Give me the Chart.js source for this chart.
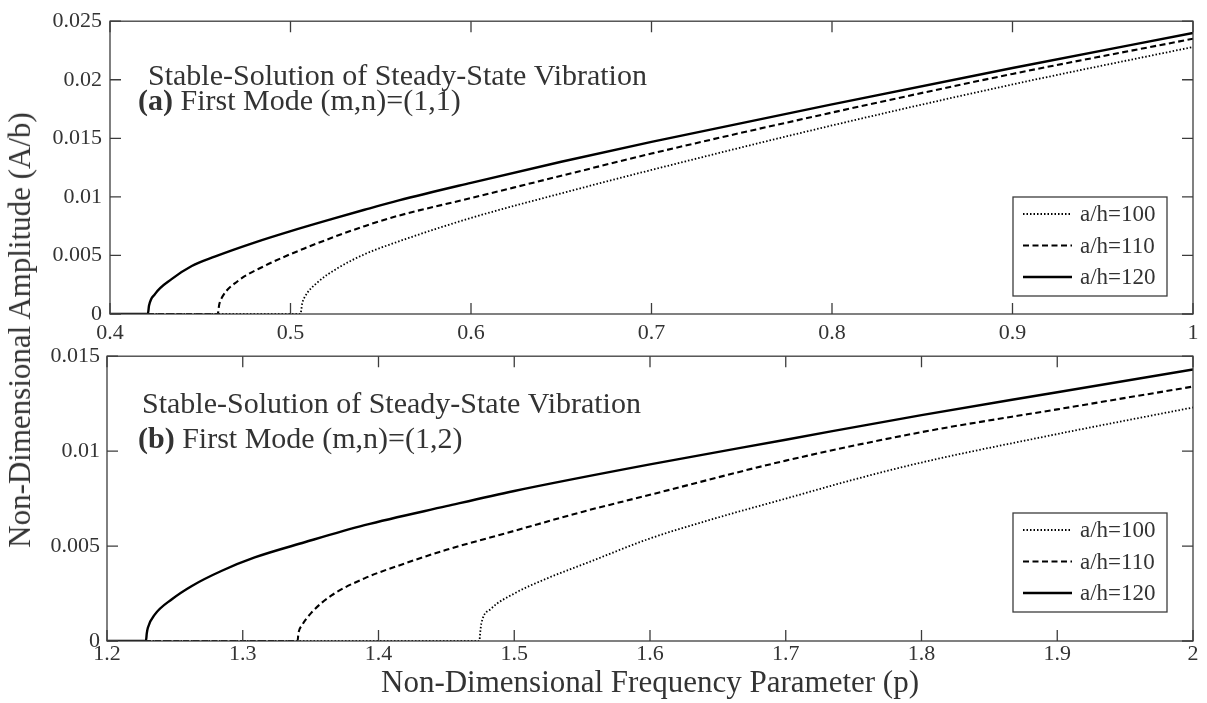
<!DOCTYPE html>
<html>
<head>
<meta charset="utf-8">
<script src="https://cdn.jsdelivr.net/npm/chart.js@4"></script>
<style>
  html, body { margin: 0; padding: 0; background: #fff; }
  #wrap { position: relative; width: 1207px; height: 703px; overflow: hidden; }
  canvas { position: absolute; left: 0; }
  #chartA { top: 0; }
  #chartB { top: 336px; }
  #ylabel {
    position: absolute; left: 20px; top: 330px;
    transform: translate(-50%, -50%) rotate(-90deg);
    white-space: nowrap; color: #333;
    font: 31px "Liberation Serif", "Times New Roman", serif;
  }
</style>
</head>
<body>
<div id="wrap">
  <canvas id="chartA" width="1207" height="345"></canvas>
  <canvas id="chartB" width="1207" height="367"></canvas>
  <div id="ylabel">Non-Dimensional Amplitude (A/b)</div>
</div>
<script>
var serif = '"Liberation Serif", "Times New Roman", serif';
var ink = '#333';

var seriesLabels = ['a/h=100', 'a/h=110', 'a/h=120'];

// (a) first mode (m,n)=(1,1)
var xTicksA = [0.4, 0.5, 0.6, 0.7, 0.8, 0.9, 1];
var yTicksA = [0, 0.005, 0.01, 0.015, 0.02, 0.025];
var pA100 = [0.4, 0.5055, 0.5065, 0.5077, 0.515, 0.526, 0.541, 0.56, 0.6, 0.65, 0.7, 0.8, 0.9, 1.0];
var ampA100 = [0, 0, 0.0009, 0.0014, 0.0027, 0.0039, 0.0051, 0.0062, 0.0082, 0.0103, 0.0123, 0.0161, 0.0196, 0.0228];
var pA110 = [0.4, 0.4597, 0.4605, 0.462, 0.4707, 0.4856, 0.5077, 0.541, 0.56, 0.6, 0.65, 0.7, 0.8, 0.9, 1.0];
var ampA110 = [0, 0, 0.0008, 0.0014, 0.0028, 0.0041, 0.0056, 0.0075, 0.0084, 0.0099, 0.0118, 0.0137, 0.0172, 0.0205, 0.0235];
var pA120 = [0.4, 0.421, 0.4216, 0.4249, 0.4343, 0.4453, 0.458, 0.48, 0.5006, 0.5227, 0.541, 0.56, 0.6, 0.65, 0.7, 0.8, 0.9, 1.0];
var ampA120 = [0, 0, 0.0007, 0.0017, 0.0030, 0.0041, 0.0049, 0.0061, 0.0071, 0.0081, 0.0089, 0.0097, 0.0112, 0.0130, 0.0147, 0.0179, 0.0210, 0.0240];

// (b) first mode (m,n)=(1,2)
var xTicksB = [1.2, 1.3, 1.4, 1.5, 1.6, 1.7, 1.8, 1.9, 2];
var yTicksB = [0, 0.005, 0.01, 0.015];
var pB100 = [1.2, 1.4743, 1.475, 1.4757, 1.483, 1.5, 1.5243, 1.5566, 1.6, 1.65, 1.7, 1.75, 1.8, 1.9, 2.0];
var ampB100 = [0, 0, 0.0005, 0.0009, 0.0017, 0.0025, 0.0033, 0.0042, 0.0054, 0.0065, 0.0075, 0.0085, 0.0094, 0.0109, 0.0123];
var pB110 = [1.2, 1.3404, 1.341, 1.3434, 1.3507, 1.3654, 1.3897, 1.42, 1.45, 1.5, 1.55, 1.6, 1.7, 1.8, 1.9, 2.0];
var ampB110 = [0, 0, 0.0004, 0.0008, 0.0015, 0.0024, 0.0033, 0.0041, 0.0048, 0.0058, 0.0068, 0.0077, 0.0095, 0.0110, 0.0122, 0.0134];
var pB120 = [1.2, 1.2287, 1.2293, 1.2301, 1.2353, 1.2478, 1.2625, 1.2846, 1.3088, 1.3456, 1.3897, 1.45, 1.5, 1.6, 1.7, 1.8, 1.9, 2.0];
var ampB120 = [0, 0, 0.0004, 0.0007, 0.0014, 0.0022, 0.0029, 0.0037, 0.0044, 0.0052, 0.0061, 0.0071, 0.0079, 0.0093, 0.0106, 0.0119, 0.0131, 0.0143];

function toPoints(xs, ys) {
  return xs.map(function (x, i) { return { x: x, y: ys[i] }; });
}

function lineSets(d100, d110, d120) {
  return [
    { label: seriesLabels[0], data: d100, borderColor: '#000', borderWidth: 1.8, borderDash: [1.5, 2], order: 3 },
    { label: seriesLabels[1], data: d110, borderColor: '#000', borderWidth: 2.1, borderDash: [6, 3.5], order: 2 },
    { label: seriesLabels[2], data: d120, borderColor: '#000', borderWidth: 2.4, borderDash: [], order: 1 }
  ];
}

// inward ticks on all four sides plus the box frame
var framePlugin = {
  id: 'frame',
  afterDatasetsDraw: function (chart) {
    var a = chart.chartArea, ctx = chart.ctx;
    var xs = chart.scales.x, ys = chart.scales.y;
    ctx.save();
    ctx.strokeStyle = '#3c3c3c';
    ctx.lineWidth = 1.3;
    ctx.beginPath();
    xs.ticks.forEach(function (t) {
      var px = xs.getPixelForValue(t.value);
      ctx.moveTo(px, a.bottom); ctx.lineTo(px, a.bottom - 11);
      ctx.moveTo(px, a.top); ctx.lineTo(px, a.top + 11);
    });
    ys.ticks.forEach(function (t) {
      var py = ys.getPixelForValue(t.value);
      ctx.moveTo(a.left, py); ctx.lineTo(a.left + 11, py);
      ctx.moveTo(a.right, py); ctx.lineTo(a.right - 11, py);
    });
    ctx.stroke();
    ctx.strokeRect(a.left, a.top, a.right - a.left, a.bottom - a.top);
    ctx.restore();
  }
};

function legendPlugin(offBottom) {
  return {
    id: 'boxLegend',
    afterDraw: function (chart) {
      var a = chart.chartArea, ctx = chart.ctx;
      var w = 154, h = 99;
      var left = a.right - 26 - w, top = a.bottom - offBottom - h;
      ctx.save();
      ctx.fillStyle = '#fff';
      ctx.fillRect(left, top, w, h);
      ctx.strokeStyle = '#3c3c3c';
      ctx.lineWidth = 1.3;
      ctx.strokeRect(left, top, w, h);
      ctx.font = '23px ' + serif;
      ctx.textBaseline = 'middle';
      chart.data.datasets.forEach(function (ds, i) {
        var cy = top + 17 + i * 31.5;
        ctx.beginPath();
        ctx.setLineDash(ds.borderDash);
        ctx.lineWidth = ds.borderWidth;
        ctx.strokeStyle = ds.borderColor;
        ctx.moveTo(left + 10, cy);
        ctx.lineTo(left + 59, cy);
        ctx.stroke();
        ctx.setLineDash([]);
        ctx.fillStyle = ink;
        ctx.fillText(ds.label, left + 67, cy + 1);
      });
      ctx.restore();
    }
  };
}

function notePlugin(lines) {
  return {
    id: 'note',
    afterDraw: function (chart) {
      var ctx = chart.ctx;
      ctx.save();
      ctx.fillStyle = ink;
      ctx.textBaseline = 'alphabetic';
      lines.forEach(function (ln) {
        var x = ln.x;
        ln.parts.forEach(function (part) {
          ctx.font = (part.bold ? 'bold ' : '') + '30px ' + serif;
          ctx.fillText(part.text, x, ln.y);
          x += ctx.measureText(part.text).width;
        });
      });
      ctx.restore();
    }
  };
}

function tickFont() { return { family: serif, size: 22 }; }

var chartA = new Chart(document.getElementById('chartA'), {
  type: 'line',
  data: { datasets: lineSets(toPoints(pA100, ampA100), toPoints(pA110, ampA110), toPoints(pA120, ampA120)) },
  options: {
    responsive: false,
    animation: false,
    devicePixelRatio: 1,
    layout: { padding: { top: 18, right: 14, left: 0, bottom: 0 } },
    plugins: { legend: { display: false }, tooltip: { enabled: false } },
    elements: { point: { radius: 0 }, line: { cubicInterpolationMode: 'monotone' } },
    scales: {
      x: {
        type: 'linear', min: 0.4, max: 1,
        afterBuildTicks: function (s) { s.ticks = xTicksA.map(function (v) { return { value: v }; }); },
        afterFit: function (s) { s.height = 31; },
        grid: { display: false, drawTicks: false },
        border: { display: false },
        ticks: { padding: 6, autoSkip: false, maxRotation: 0, font: tickFont(), color: ink, callback: function (v) { return String(v); } }
      },
      y: {
        type: 'linear', min: 0, max: 0.025,
        afterBuildTicks: function (s) { s.ticks = yTicksA.map(function (v) { return { value: v }; }); },
        afterFit: function (s) { s.width = 110; },
        grid: { display: false, drawTicks: false },
        border: { display: false },
        ticks: { padding: 8, autoSkip: false, font: tickFont(), color: ink, callback: function (v) { return String(v); } }
      }
    }
  },
  plugins: [framePlugin, legendPlugin(18), notePlugin([
    { x: 148, y: 85, parts: [{ text: 'Stable-Solution of Steady-State Vibration' }] },
    { x: 138, y: 110, parts: [{ text: '(a)', bold: true }, { text: ' First Mode (m,n)=(1,1)' }] }
  ])]
});

var chartB = new Chart(document.getElementById('chartB'), {
  type: 'line',
  data: { datasets: lineSets(toPoints(pB100, ampB100), toPoints(pB110, ampB110), toPoints(pB120, ampB120)) },
  options: {
    responsive: false,
    animation: false,
    devicePixelRatio: 1,
    layout: { padding: { top: 15, right: 14, left: 0, bottom: 0 } },
    plugins: { legend: { display: false }, tooltip: { enabled: false } },
    elements: { point: { radius: 0 }, line: { cubicInterpolationMode: 'monotone' } },
    scales: {
      x: {
        type: 'linear', min: 1.2, max: 2,
        afterBuildTicks: function (s) { s.ticks = xTicksB.map(function (v) { return { value: v }; }); },
        afterFit: function (s) { s.height = 62; },
        grid: { display: false, drawTicks: false },
        border: { display: false },
        ticks: { padding: 0, autoSkip: false, maxRotation: 0, font: tickFont(), color: ink, callback: function (v) { return String(v); } },
        title: {
          display: true, text: 'Non-Dimensional Frequency Parameter (p)',
          color: ink, font: { family: serif, size: 31 }, padding: { top: 0, bottom: 1 }
        }
      },
      y: {
        type: 'linear', min: 0, max: 0.015,
        afterBuildTicks: function (s) { s.ticks = yTicksB.map(function (v) { return { value: v }; }); },
        afterFit: function (s) { s.width = 107; },
        grid: { display: false, drawTicks: false },
        border: { display: false },
        ticks: { padding: 7, autoSkip: false, font: tickFont(), color: ink, callback: function (v) { return String(v); } }
      }
    }
  },
  plugins: [framePlugin, legendPlugin(29), notePlugin([
    { x: 142, y: 77, parts: [{ text: 'Stable-Solution of Steady-State Vibration' }] },
    { x: 138, y: 112, parts: [{ text: '(b)', bold: true }, { text: ' First Mode (m,n)=(1,2)' }] }
  ])]
});
</script>
</body>
</html>
